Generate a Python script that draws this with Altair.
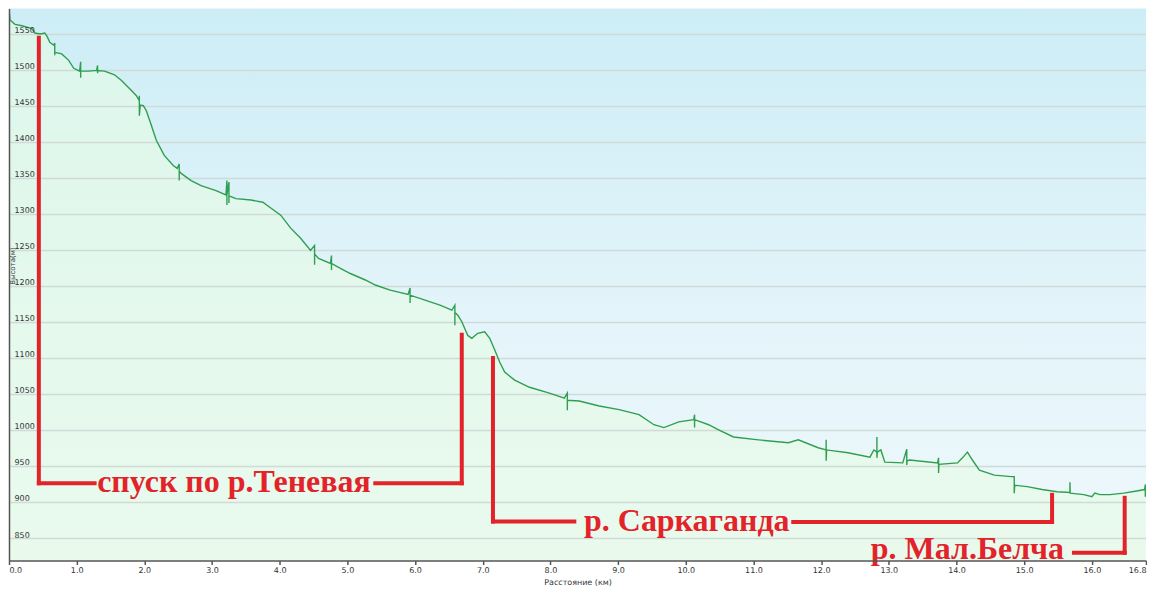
import altair as alt
import pandas as pd

# ---- elevation profile (distance in km, elevation in m) ----
distance_km = [
    0.000, 0.000, 0.015, 0.088, 0.191, 0.265, 0.338, 0.382, 0.441, 0.485, 0.529, 0.559, 0.603, 0.662,
    0.676, 0.676, 0.676,
    0.779, 0.882, 0.956, 1.044,
    1.059, 1.059, 1.059,
    1.176, 1.294,
    1.309, 1.309, 1.309,
    1.412, 1.559, 1.662, 1.809, 1.882, 1.926,
    1.926, 1.926, 1.940,
    1.985, 2.029, 2.103, 2.176, 2.294, 2.426, 2.485,
    2.515, 2.515, 2.515,
    2.544, 2.691, 2.838, 3.059, 3.206,
    3.220, 3.220, 3.220,
    3.250, 3.250, 3.250,
    3.353, 3.574, 3.750, 3.868, 4.015, 4.162, 4.309, 4.456,
    4.515, 4.515, 4.515,
    4.574, 4.750,
    4.765, 4.765, 4.765,
    4.897, 5.044, 5.265, 5.412, 5.632, 5.897,
    5.926, 5.926, 5.926,
    6.147, 6.368, 6.544,
    6.588, 6.588, 6.588,
    6.632, 6.691, 6.779, 6.838, 6.926, 7.029, 7.103, 7.176, 7.250, 7.324, 7.471, 7.691, 7.985, 8.206,
    8.250, 8.250, 8.250,
    8.426, 8.721, 9.015, 9.309, 9.529, 9.676, 9.897, 10.118,
    10.130, 10.130, 10.130,
    10.338, 10.485, 10.706, 11.074, 11.515, 11.662, 11.956, 12.074,
    12.074, 12.074, 12.080,
    12.397, 12.721, 12.779, 12.824,
    12.824, 12.824, 12.830,
    12.882, 12.941, 13.206,
    13.265, 13.265, 13.270,
    13.309, 13.721,
    13.735, 13.735, 13.740,
    14.015, 14.088, 14.162, 14.235, 14.338, 14.559, 14.809,
    14.853, 14.853, 14.860,
    15.044, 15.265, 15.485, 15.676,
    15.676, 15.680,
    15.779, 15.882, 16.000, 16.044, 16.118, 16.265, 16.471, 16.662, 16.779,
    16.790, 16.790, 16.795,
]
elevation_m = [
    1551, 1586, 1570, 1564, 1562, 1560, 1558, 1552, 1551, 1551, 1552, 1548, 1539, 1535,
    1538, 1521, 1525,
    1523, 1514, 1503, 1499,
    1512, 1490, 1499,
    1499, 1500,
    1507, 1496, 1500,
    1499, 1494, 1486, 1472, 1465, 1458,
    1465, 1437, 1452,
    1451, 1444, 1424, 1403, 1382, 1368, 1364,
    1370, 1347, 1360,
    1357, 1347, 1340, 1333, 1327,
    1347, 1313, 1327,
    1345, 1316, 1326,
    1322, 1320, 1317, 1309, 1299, 1281, 1267, 1250,
    1257, 1230, 1245,
    1239, 1232,
    1243, 1223, 1232,
    1225, 1218, 1209, 1202, 1195, 1189,
    1198, 1177, 1188,
    1181, 1174, 1167,
    1174, 1146, 1164,
    1160, 1151, 1132, 1128, 1135, 1137, 1128, 1112, 1095, 1081, 1070, 1060, 1052, 1045,
    1052, 1028, 1042,
    1041, 1034, 1029, 1022, 1008, 1004, 1012, 1015,
    1022, 1004, 1015,
    1008, 1001, 991, 987, 983, 987, 976, 973,
    987, 958, 973,
    969, 963, 973, 970,
    991, 962, 970,
    973, 956, 955,
    974, 952, 958,
    959, 955,
    962, 941, 953,
    955, 962, 970, 959, 945, 938, 936,
    936, 913, 924,
    922, 918, 915, 914,
    928, 913,
    912, 911, 908, 913, 911, 911, 913, 916, 918,
    925, 908, 918,
]

x_tick_values = [0.0, 1.0, 2.0, 3.0, 4.0, 5.0, 6.0, 7.0, 8.0, 9.0, 10.0,
                 11.0, 12.0, 13.0, 14.0, 15.0, 16.0, 16.8]
y_tick_values = [850, 900, 950, 1000, 1050, 1100, 1150, 1200, 1250, 1300,
                 1350, 1400, 1450, 1500, 1550]

# ---- red bracket annotations (data units) ----
bracket_x  = [0.441, 0.441, 5.412, 6.690, 7.151, 7.151, 11.588, 15.412, 15.735, 16.485]
bracket_x2 = [0.441, 1.265, 6.690, 6.690, 7.151, 8.353, 15.412, 15.412, 16.485, 16.485]
bracket_y  = [1545.5, 926.6, 926.6, 926.6, 1100.6, 873.5, 873.0, 873.0, 830.3, 830.3]
bracket_y2 = [926.6, 926.6, 926.6, 1133.0, 873.5, 873.5, 873.0, 910.7, 830.3, 906.5]

river_labels = ["спуск по р.Теневая", "р. Саркаганда", "р. Мал.Белча"]
river_label_x = [3.324, 10.015, 14.162]
river_label_y = [914.8, 860.8, 822.0]

W, H = 1139, 553
RED = "#e2232a"
FONT = "DejaVu Sans"

profile = pd.DataFrame({"km": distance_km, "elev": elevation_m})
profile["i"] = range(len(profile))
# area follows the profile (one value per distance)
area_data = profile.groupby("km", as_index=False)["elev"].median()
brackets = pd.DataFrame({"x": bracket_x, "x2": bracket_x2, "y": bracket_y, "y2": bracket_y2})
labels = pd.DataFrame({"t": river_labels, "x": river_label_x, "y": river_label_y})
grid = pd.DataFrame({"g": y_tick_values})
one = pd.DataFrame({"a": [0]})

x_scale = alt.Scale(domain=[0, 16.8], nice=False, zero=False)
y_scale = alt.Scale(domain=[819.4, 1586], nice=False, zero=False)

x_axis = alt.Axis(values=x_tick_values, format=".1f", grid=False, labelFlush=True,
                  labelOverlap=False, tickSize=4, tickColor="#555555", tickWidth=1.5,
                  labelFontSize=8, labelPadding=2, labelColor="#333333", labelFont=FONT,
                  domainColor="#555555", domainWidth=1.5, titleFontSize=8,
                  titleFontWeight="normal", titleFont=FONT, titleColor="#333333",
                  titlePadding=4, zindex=1)
y_axis = alt.Axis(values=y_tick_values, format="d", grid=False, ticks=False, tickSize=0,
                  labelAlign="left", labelPadding=-5, labelBaseline="alphabetic",
                  labelOffset=-1.5, labelFontSize=8, labelColor="#333333", labelFont=FONT,
                  domainColor="#555555", domainWidth=1.5, title=None, zindex=1)


def X(field):
    return alt.X(field, scale=x_scale, axis=x_axis, title="Расстояние (км)")


def Y(field):
    return alt.Y(field, scale=y_scale, axis=y_axis, stack=False)


background = alt.Chart(one).mark_rect(
    color=alt.LinearGradient(gradient="linear", x1=0, x2=0, y1=0, y2=1, stops=[
        alt.GradientStop(color="#cdedf6", offset=0),
        alt.GradientStop(color="#e3f4fa", offset=0.55),
        alt.GradientStop(color="#eef8fb", offset=1),
    ])
).encode(x=alt.value(0), x2=alt.value(W), y=alt.value(0), y2=alt.value(H))

area = alt.Chart(area_data).mark_area(
    clip=True, fill="#e6fbe4", fillOpacity=0.6, interpolate="linear"
).encode(x=X("km:Q"), y=Y("elev:Q"), y2=alt.value(H))

gridlines = alt.Chart(grid).mark_rule(color="#d0dad8", strokeWidth=1.5).encode(y=Y("g:Q"))

line = alt.Chart(profile).mark_line(color="#2f9f4f", strokeWidth=1.4, clip=True).encode(
    x=X("km:Q"), y=Y("elev:Q"), order=alt.Order("i:Q"))

bracket_rules = alt.Chart(brackets).mark_rule(color=RED, strokeWidth=4, strokeCap="square").encode(
    x=X("x:Q"), x2="x2:Q", y=Y("y:Q"), y2="y2:Q")

bracket_text = alt.Chart(labels).mark_text(
    color=RED, font="Liberation Serif", fontWeight="bold", fontSize=32,
    align="center", baseline="alphabetic"
).encode(x=X("x:Q"), y=Y("y:Q"), text="t:N")

y_title = alt.Chart(one).mark_text(
    angle=270, fontSize=7, font=FONT, color="#333333", baseline="middle", align="center"
).encode(x=alt.value(4), y=alt.value(258), text=alt.value("Высота(м)"))

chart = alt.layer(
    background, area, gridlines, line, bracket_rules, bracket_text, y_title
).properties(
    width=W, height=H, padding={"left": 0, "top": 0, "right": 0, "bottom": 0}
).configure_view(strokeWidth=0)

chart.save("out.html", embed_options={"renderer": "svg", "actions": False})
